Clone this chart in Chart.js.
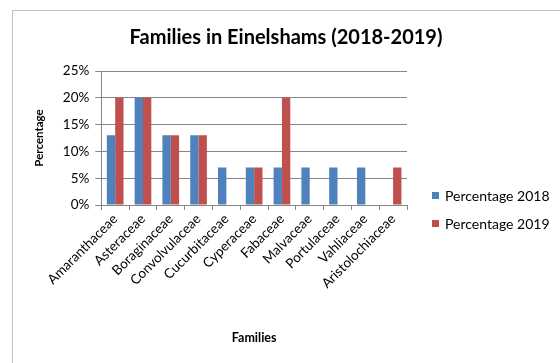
<!DOCTYPE html>
<html>
<head>
<meta charset="utf-8">
<script src="https://cdn.jsdelivr.net/npm/chart.js@4.4.1/dist/chart.umd.min.js"></script>
<style>
  body { margin: 0; background: #fff; }
  #wrap { position: relative; width: 560px; height: 363px; }
  #frame { position: absolute; left: 12px; top: 10px; right: 0; bottom: 0;
           border-left: 1px solid #bfbfbf; border-top: 1px solid #bfbfbf; }
  canvas { position: absolute; left: 0; top: 0; }
</style>
</head>
<body>
<div id="wrap">
  <div id="frame"></div>
  <canvas id="myChart" width="560" height="363"></canvas>
</div>
<script>
'use strict';

const families = ['Amaranthaceae', 'Asteraceae', 'Boraginaceae', 'Convolvulaceae', 'Cucurbitaceae',
  'Cyperaceae', 'Fabaceae', 'Malvaceae', 'Portulaceae', 'Vahliaceae', 'Aristolochiaceae'];
const pct2018 = [13, 20, 13, 13, 7, 7, 7, 7, 7, 7, 0];
const pct2019 = [20, 20, 13, 13, 0, 7, 20, 0, 0, 0, 7];
const yTicks = [0, 5, 10, 15, 20, 25];
const chartTitle = 'Families in Einelshams (2018-2019)';

const fontName = 'Lato, "Open Sans", sans-serif';

// title + legend drawn Excel style (title centred over the whole frame, legend at right)
const extras = {
  id: 'extras',
  afterDraw(chart) {
    const ctx = chart.ctx;
    ctx.save();
    ctx.fillStyle = '#000';
    ctx.font = 'bold 20px ' + fontName;
    ctx.textAlign = 'center';
    ctx.textBaseline = 'middle';
    ctx.fillText(chartTitle, 286, 38);

    ctx.textAlign = 'left';
    ctx.font = '14px ' + fontName;
    chart.data.datasets.forEach((ds, i) => {
      let y = 196 + i * 28;
      ctx.fillStyle = ds.backgroundColor;
      ctx.fillRect(432, y - 4, 7, 7);
      ctx.fillStyle = '#000';
      ctx.fillText(ds.label, 445, y);
    });
    ctx.restore();
  }
};

let canvasElem = document.getElementById('myChart').getContext('2d');

new Chart(canvasElem, {
  type: 'bar',
  data: {
    labels: families,
    datasets: [{
      label: 'Percentage 2018',
      data: pct2018,
      backgroundColor: '#4F81BD',
      categoryPercentage: 0.6,
      barPercentage: 1
    },
    {
      label: 'Percentage 2019',
      data: pct2019,
      backgroundColor: '#C0504D',
      categoryPercentage: 0.6,
      barPercentage: 1
    }]
  },
  options: {
    responsive: false,
    animation: false,
    layout: { padding: { left: 28, right: 153, top: 71, bottom: 14 } },
    plugins: {
      legend: { display: false },
      tooltip: { enabled: false },
      title: { display: false }
    },
    scales: {
      x: {
        afterFit: axis => { axis.height = 144; },
        grid: { drawOnChartArea: false, color: '#868686', tickLength: 5, offset: true },
        border: { color: '#868686' },
        ticks: {
          color: '#000', minRotation: 45, maxRotation: 45, autoSkip: false, padding: 1,
          font: { family: fontName, size: 13.5 }
        },
        title: {
          display: true, text: 'Families', color: '#000',
          font: { family: fontName, size: 12.5, weight: 'bold' },
          padding: { top: 38 }
        }
      },
      y: {
        min: 0,
        max: 25,
        afterBuildTicks: axis => { axis.ticks = yTicks.map(v => ({ value: v })); },
        grid: { color: '#868686', tickLength: 6 },
        border: { color: '#868686' },
        ticks: {
          color: '#000', padding: 6,
          font: { family: fontName, size: 13.5 },
          callback: v => v + '%'
        },
        title: {
          display: true, text: 'Percentage', color: '#000',
          font: { family: fontName, size: 11.5, weight: 'bold' },
          padding: { bottom: 11 }
        }
      }
    }
  },
  plugins: [extras]
});
</script>
</body>
</html>
